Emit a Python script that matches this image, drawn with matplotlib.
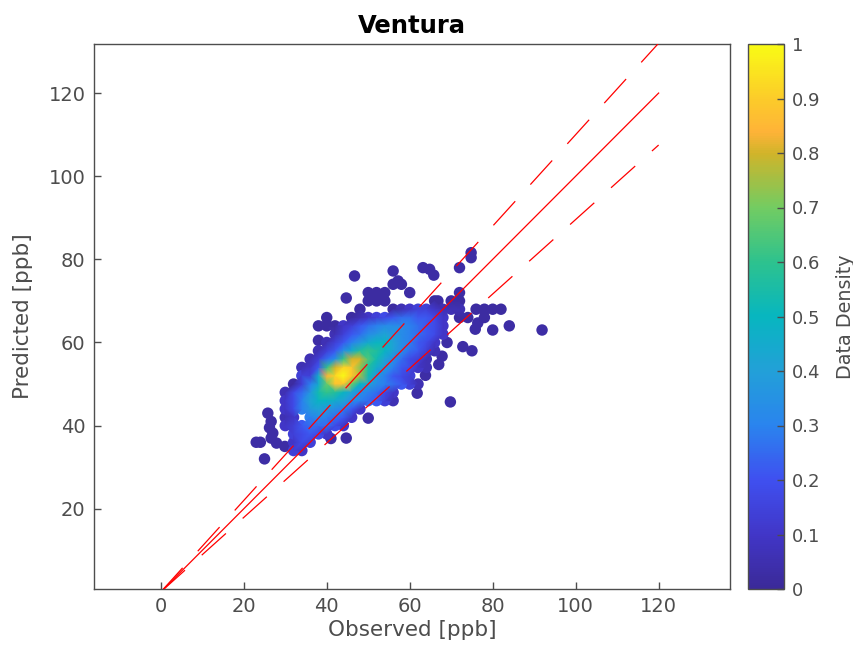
import matplotlib
matplotlib.use("Agg")
import matplotlib.pyplot as plt
import matplotlib.tri as mtri
import numpy as np
from matplotlib.colors import LinearSegmentedColormap, Normalize
from matplotlib.cm import ScalarMappable

GREY = "#4d4d4d"

# fit lines
line_obs = [0, 120]
line_mid = [0, 120]
line_upper = [0, 132]
line_lower = [0, 107.5]

# isolated points
outlier_obs = [46.7, 44.7, 56, 57.2, 74.8, 74.8, 72, 63.2, 64.8, 65.8, 80, 84, 91.9, 76.4,
               75.8, 72.8, 75, 69.8, 61.8, 63.8, 67, 67.8, 69, 50, 44.7, 41, 25, 23, 24,
               25.8, 26.6, 27, 27.9, 29.9, 72, 60, 66.8, 38, 26.2, 26.6]
outlier_pred = [76, 70.7, 77.2, 74.8, 80.4, 81.6, 78, 78, 77.6, 76.2, 63, 64, 63, 64.7,
                63.2, 59, 58, 45.7, 47.8, 52.1, 54.7, 56.7, 60, 41.8, 37, 36.9, 32, 36, 36,
                43, 41, 38.2, 35.8, 35, 72, 72, 70, 60.5, 39.5, 37]
outlier_density = 0.03

# gridded core of the cloud: pred -> (first obs, one letter per 2 ppb, a=0.02 ... z=1)
core_rows = {
    74: (56, "aa"),
    72: (50, "aaa"),
    70: (50, "aaa.....a.aa"),
    68: (48, "a...abcddcbbb.aaaa"),
    66: (40, "a..abcdefggffec.aa.a"),
    64: (38, "aaacdfghiiihgfec"),
    62: (42, "bdfgijkjihgfec"),
    60: (40, "bdfhjlmmkihfec"),
    58: (38, "bdfilopomkigfdb"),
    56: (36, "bdgipuuqnkigedb"),
    54: (34, "bcfpuxwsoljhfecb"),
    52: (34, "ddlvxzwtnjhfed"),
    50: (32, "adhlrwwrmkihgfdb"),
    48: (30, "begjnpomkihgec"),
    46: (30, "cehkmmlkihgfdb"),
    44: (30, "cehjkjihfc"),
    42: (30, "bc.hihgfc"),
    40: (30, "cdfgggec"),
    38: (32, "defec"),
    36: (32, "ced"),
    34: (32, "dc"),
}

# colour bar
bar_levels = [0.0, 0.1, 0.2, 0.3, 0.4, 0.5, 0.6, 0.7, 0.8, 0.84, 0.9, 1.0]
bar_colors = ["#3b2a98", "#4136c8", "#3f50f0", "#2a84ee", "#22a0d8", "#07b6c0", "#2dc28e",
              "#72cc62", "#d0b42a", "#feb338", "#fccb2a", "#f9fb15"]
cmap = LinearSegmentedColormap.from_list("bar", list(zip(bar_levels, bar_colors)))

core_obs, core_pred, core_dens = [], [], []
for y, (x0, cells) in core_rows.items():
    for i, c in enumerate(cells):
        if c != ".":
            core_obs.append(x0 + 2 * i)
            core_pred.append(y)
            core_dens.append(0.02 + (ord(c) - ord("a")) * 0.0392)
core_obs, core_pred, core_dens = np.array(core_obs), np.array(core_pred), np.array(core_dens)

fig = plt.figure(figsize=(8.54, 6.54), dpi=100)
W, H = 854, 654
ax = fig.add_axes([94 / W, 1 - 589 / H, 636 / W, 545 / H])

# markers give the bumpy outline
ax.scatter(outlier_obs, outlier_pred, c=[outlier_density] * len(outlier_obs), s=68, cmap=cmap,
           vmin=0, vmax=1, linewidths=0, zorder=2)
order = np.argsort(core_dens)
ax.scatter(core_obs[order], core_pred[order], c=core_dens[order], s=68, cmap=cmap,
           vmin=0, vmax=1, linewidths=0, zorder=2)

# smooth shading over the inside of the cloud
tri = mtri.Triangulation(core_obs, core_pred)
a, b, c = tri.triangles.T
longest = np.max([np.hypot(core_obs[p] - core_obs[q], core_pred[p] - core_pred[q])
                  for p, q in [(a, b), (b, c), (c, a)]], axis=0)
tri.set_mask(longest > 3)
ax.tripcolor(tri, core_dens, shading="gouraud", cmap=cmap, vmin=0, vmax=1, zorder=2.5)

ax.plot(line_obs, line_mid, color="red", lw=0.9, zorder=3)
ax.plot(line_obs, line_upper, color="red", lw=0.9, dashes=(26, 18), zorder=3)
ax.plot(line_obs, line_lower, color="red", lw=0.9, dashes=(26, 18), zorder=3)

ax.set_xlim(-16.1, 137.2)
ax.set_ylim(0.7, 131.8)
ax.set_xticks([0, 20, 40, 60, 80, 100, 120])
ax.set_yticks([20, 40, 60, 80, 100, 120])
ax.tick_params(direction="in", length=5, width=1, color=GREY, labelcolor=GREY, labelsize=14, pad=6)
ax.set_xlabel("Observed [ppb]", fontsize=15.5, color=GREY, labelpad=3)
ax.set_ylabel("Predicted [ppb]", fontsize=15.5, color=GREY, labelpad=11)
ax.set_title("Ventura", fontsize=17.5, fontweight="bold", color="black", pad=8)
for s in ax.spines.values():
    s.set_color(GREY)
    s.set_linewidth(1)

cax = fig.add_axes([748 / W, 1 - 589 / H, 36 / W, 545 / H])
cb = fig.colorbar(ScalarMappable(Normalize(0, 1), cmap), cax=cax)
cb.set_ticks(np.arange(0, 11) / 10)
cb.set_ticklabels(["0", "0.1", "0.2", "0.3", "0.4", "0.5", "0.6", "0.7", "0.8", "0.9", "1"])
cax.tick_params(direction="in", length=5, width=1, color=GREY, labelcolor=GREY, labelsize=13, pad=6)
cb.set_label("Data Density", fontsize=13.8, color=GREY, labelpad=11)
cb.outline.set_edgecolor(GREY)
cb.outline.set_linewidth(1)

fig.savefig("out.png", dpi=100)
